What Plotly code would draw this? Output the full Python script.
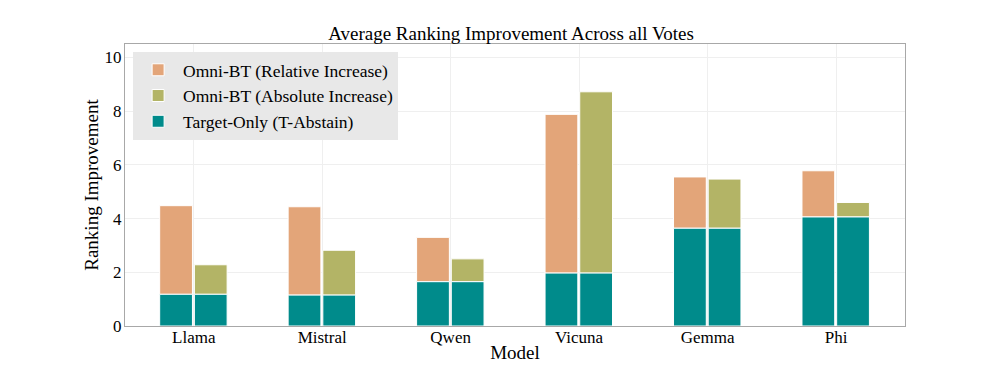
import plotly.graph_objects as go

models = ["Llama", "Mistral", "Qwen", "Vicuna", "Gemma", "Phi"]
target_only = [1.18, 1.15, 1.65, 1.97, 3.64, 4.06]
omni_relative = [4.48, 4.44, 3.30, 7.88, 5.55, 5.78]
omni_absolute = [2.28, 2.82, 2.50, 8.72, 5.47, 4.60]

teal = "#008b8b"
orange = "#e3a579"
olive = "#b3b466"
serif = "Liberation Serif"

x = list(range(len(models)))
rel_extra = [r - t for r, t in zip(omni_relative, target_only)]
abs_extra = [a - t for a, t in zip(omni_absolute, target_only)]

edge = {"color": "white", "width": 1}

fig = go.Figure()

fig.add_trace(
    go.Bar(
        x=x, y=rel_extra, base=target_only,
        name="Omni-BT (Relative Increase)",
        marker_color=orange, marker_line=edge,
        width=0.255, offset=-0.265,
    )
)
fig.add_trace(
    go.Bar(
        x=x, y=abs_extra, base=target_only,
        name="Omni-BT (Absolute Increase)",
        marker_color=olive, marker_line=edge,
        width=0.255, offset=0.005,
    )
)
fig.add_trace(
    go.Bar(
        x=x, y=target_only,
        name="Target-Only (T-Abstain)",
        marker_color=teal, marker_line=edge,
        width=0.255, offset=-0.265,
    )
)
fig.add_trace(
    go.Bar(
        x=x, y=target_only,
        name="Target-Only (T-Abstain)",
        marker_color=teal, marker_line=edge,
        width=0.255, offset=0.005,
        showlegend=False,
    )
)

axis_common = {
    "showgrid": True,
    "gridcolor": "#efefef",
    "showline": True, "mirror": True,
    "linecolor": "#a8a8a8", "linewidth": 1.2,
    "ticks": "", "zeroline": False,
    "automargin": True,
    "tickfont": {"family": serif, "size": 17, "color": "black"},
}

# the page body has an 8px margin, so the figure is a bit smaller than the window
fig.update_layout(
    width=989,
    height=359,
    barmode="overlay",
    plot_bgcolor="white",
    paper_bgcolor="white",
    font={"family": serif, "size": 17, "color": "black"},
    margin={"l": 117, "r": 92, "t": 36, "b": 41, "autoexpand": False},
    title={
        "text": "Average Ranking Improvement Across all Votes",
        "x": 0.5086, "xanchor": "center",
        "y": 0.93, "yanchor": "middle",
        "font": {"family": serif, "size": 19, "color": "black"},
    },
    xaxis={
        **axis_common,
        "title": {"text": "Model", "font": {"family": serif, "size": 19}, "standoff": 0},
        "tickvals": x,
        "ticktext": models,
        "range": [-0.535, 5.537],
        "ticklabelstandoff": -5,
    },
    yaxis={
        **axis_common,
        "title": {"text": "Ranking Improvement", "font": {"family": serif, "size": 19}, "standoff": 0},
        "range": [0, 10.5],
        "tickvals": [0, 2, 4, 6, 8, 10],
        "ticklabelstandoff": -1,
    },
    legend={
        "x": 0.0104, "y": 0.972,
        "xanchor": "left", "yanchor": "top",
        "bgcolor": "#e8e8e8",
        "font": {"family": serif, "size": 17.5, "color": "black"},
        "traceorder": "normal",
        "itemwidth": 40,
    },
)

fig.write_html("out.html")
